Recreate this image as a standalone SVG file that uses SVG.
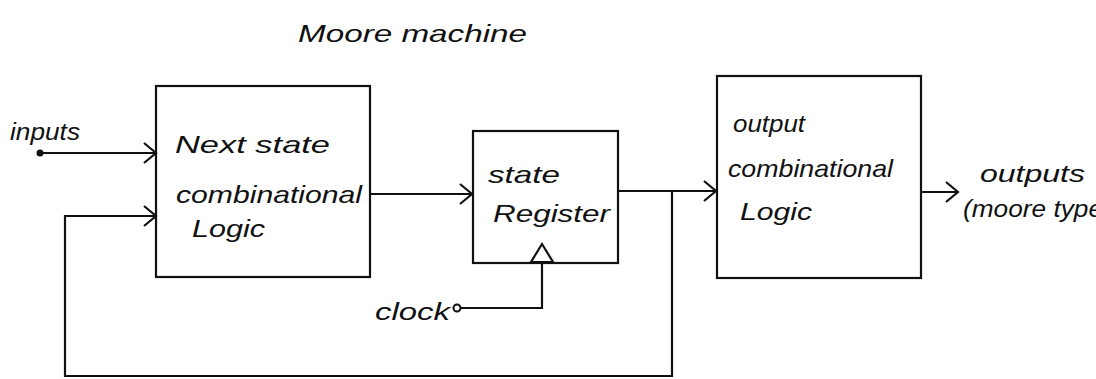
<svg xmlns="http://www.w3.org/2000/svg" width="1096" height="379" viewBox="0 0 1096 379">
<style>
.box{fill:none;stroke:#111;stroke-width:2.2}
.ln{fill:none;stroke:#111;stroke-width:2.2}
.t{font-family:"Liberation Sans",Arial,sans-serif;font-style:italic;font-size:24px;fill:#111}
</style>
<defs>
<marker id="chev" markerUnits="userSpaceOnUse" markerWidth="20" markerHeight="24" refX="16" refY="12" orient="auto">
<polyline points="4,2 16,12 4,22" fill="none" stroke="#111" stroke-width="2.2"/>
</marker>
</defs>
<rect width="1096" height="379" fill="#fff"/>
<text class="t" x="298" y="42" font-size="26" textLength="229" lengthAdjust="spacingAndGlyphs">Moore machine</text>
<g id="connectors">
<line class="ln" x1="40" y1="153" x2="156" y2="153" marker-end="url(#chev)"/>
<circle cx="40" cy="153" r="3.5" fill="#111"/>
<text class="t" x="10" y="140" textLength="70" lengthAdjust="spacingAndGlyphs">inputs</text>
<polyline class="ln" points="672,191 672,376 65,376 65,216 156,216" marker-end="url(#chev)"/>
<line class="ln" x1="370" y1="194" x2="472" y2="194" marker-end="url(#chev)"/>
<line class="ln" x1="618" y1="191" x2="716" y2="191" marker-end="url(#chev)"/>
<line class="ln" x1="921" y1="192" x2="958" y2="192" marker-end="url(#chev)"/>
<polyline class="ln" points="458,308 542,308 542,246"/>
<polygon points="542,244 531,262 553,262" fill="#fff" stroke="#111" stroke-width="2.2"/>
<circle cx="457" cy="308" r="3.5" fill="#fff" stroke="#111" stroke-width="2"/>
<text class="t" x="375" y="320" textLength="75" lengthAdjust="spacingAndGlyphs">clock</text>
<text class="t" x="980" y="182" textLength="105" lengthAdjust="spacingAndGlyphs">outputs</text>
<text class="t" x="963" y="217" textLength="140" lengthAdjust="spacingAndGlyphs">(moore type</text>
</g>
<g id="next-state">
<rect class="box" x="156" y="86" width="214" height="191"/>
<text class="t" x="175" y="153" textLength="155" lengthAdjust="spacingAndGlyphs">Next state</text>
<text class="t" x="176" y="203" textLength="186" lengthAdjust="spacingAndGlyphs">combinational</text>
<text class="t" x="192" y="237" textLength="73" lengthAdjust="spacingAndGlyphs">Logic</text>
</g>
<g id="state-register">
<rect class="box" x="473" y="131" width="145" height="132"/>
<text class="t" x="488" y="183" textLength="72" lengthAdjust="spacingAndGlyphs">state</text>
<text class="t" x="493" y="222" textLength="117" lengthAdjust="spacingAndGlyphs">Register</text>
</g>
<g id="output-logic">
<rect class="box" x="717" y="76" width="204" height="202"/>
<text class="t" x="733" y="132" textLength="72" lengthAdjust="spacingAndGlyphs">output</text>
<text class="t" x="728" y="177" textLength="165" lengthAdjust="spacingAndGlyphs">combinational</text>
<text class="t" x="740" y="220" textLength="72" lengthAdjust="spacingAndGlyphs">Logic</text>
</g>
</svg>
